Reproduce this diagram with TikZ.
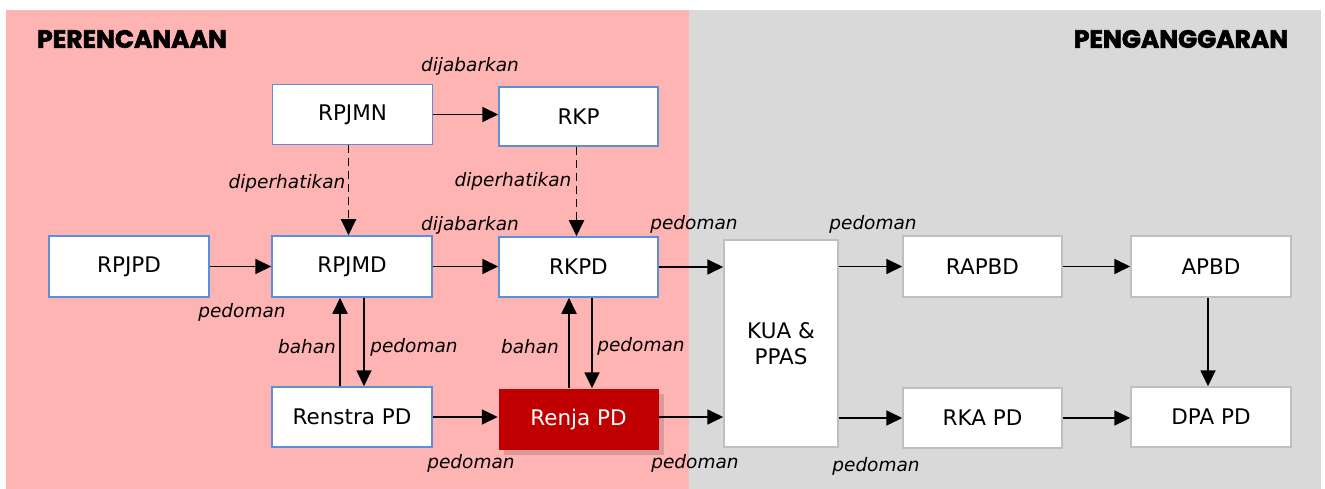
\documentclass[tikz,border=0pt]{standalone}
\usepackage{fontspec}
\setmainfont{DejaVu Sans}
\newfontfamily\titlefont[BoldFeatures={FakeBold=2.5}]{Poppins}
\usetikzlibrary{arrows.meta,shadows}
\definecolor{pinkbg}{HTML}{FFB4B4}
\definecolor{graybg}{HTML}{D9D9D9}
\definecolor{boxblue}{HTML}{5B8FD8}
\definecolor{boxgray}{HTML}{BFBFBF}
\definecolor{renjared}{HTML}{C00000}
\tikzset{
  box/.style={draw=boxblue, fill=white, line width=1.5pt, inner sep=0pt,
    font=\fontsize{21.5}{25}\selectfont, align=center},
  gbox/.style={box, draw=boxgray},
  lbl/.style={inner sep=0pt, font=\fontsize{18.5}{20}\selectfont\itshape},
  ttl/.style={inner sep=0pt, font=\titlefont\bfseries\fontsize{25}{27}\selectfont},
  arr/.style={line width=1.8pt, -{Triangle[length=16pt,width=15pt]}},
  darr/.style={arr, dash pattern=on 8pt off 5pt}
}
\begin{document}
\begin{tikzpicture}[x=1pt,y=-1pt]
\useasboundingbox (0,0) rectangle (1325,489);
\fill[white] (0,0) rectangle (1325,489);
\fill[pinkbg] (6,10) rectangle (689,489);
\fill[graybg] (689,10) rectangle (1321,489);

\node[ttl] (tplan) at (132,39) {PERENCANAAN};
\node[ttl] (tbudg) at (1181,39) {PENGANGGARAN};

% boxes
\node[box, minimum width=160pt, minimum height=60pt] (rpjmn) at (352.5,114.5) {RPJMN};
\node[box, minimum width=159pt, minimum height=59pt] (rkp) at (578.5,116.5) {RKP};
\node[box, minimum width=160pt, minimum height=61pt] (rpjpd) at (129,266.5) {RPJPD};
\node[box, minimum width=160pt, minimum height=61pt] (rpjmd) at (352,266.5) {RPJMD};
\node[box, minimum width=159pt, minimum height=60pt] (rkpd) at (578.5,267) {RKPD};
\node[box, minimum width=160pt, minimum height=60pt] (renstra) at (352,417) {Renstra PD};
\node[box, draw=none, fill=renjared, text=white, minimum width=160pt, minimum height=61pt,
  drop shadow={opacity=0.14, shadow xshift=5pt, shadow yshift=-5pt, fill=black}] (renja) at (578.5,419.5) {Renja PD};
\node[gbox, minimum width=114pt, minimum height=207pt] (kua) at (781,343.5) {KUA \&\\[1pt]PPAS};
\node[gbox, minimum width=159pt, minimum height=61pt] (rapbd) at (982.5,266.5) {RAPBD};
\node[gbox, minimum width=160pt, minimum height=61pt] (apbd) at (1211,266.5) {APBD};
\node[gbox, minimum width=159pt, minimum height=60pt] (rka) at (982.5,418) {RKA PD};
\node[gbox, minimum width=160pt, minimum height=60pt] (dpa) at (1211,417) {DPA PD};

% connectors
\draw[arr] (rpjmn.east) -- (rpjmn.east -| rkp.west);
\draw[darr] ([xshift=-4pt]rpjmn.south) -- ([xshift=-4pt]rpjmn.south |- rpjmd.north);
\draw[darr] ([xshift=-2pt]rkp.south) -- ([xshift=-2pt]rkp.south |- rkpd.north);
\draw[arr] (rpjpd.east) -- (rpjmd.west);
\draw[arr] (rpjmd.east) -- (rpjmd.east -| rkpd.west);
\draw[arr] (rkpd.east) -- (rkpd.east -| kua.west);
\draw[arr] (kua.east |- rapbd.west) -- (rapbd.west);
\draw[arr] (rapbd.east) -- (rapbd.east -| apbd.west);
\draw[arr] ([xshift=-3pt]apbd.south) -- ([xshift=-3pt]apbd.south |- dpa.north);
\draw[arr] ([xshift=-12pt]renstra.north) -- ([xshift=-12pt]renstra.north |- rpjmd.south);
\draw[arr] ([xshift=12pt]rpjmd.south) -- ([xshift=12pt]rpjmd.south |- renstra.north);
\draw[arr] ([xshift=-9.5pt]renja.north) -- ([xshift=-9.5pt]renja.north |- rkpd.south);
\draw[arr] ([xshift=13.5pt]rkpd.south) -- ([xshift=13.5pt]rkpd.south |- renja.north);
\draw[arr] (renstra.east) -- (renstra.east -| renja.west);
\draw[arr] (renja.east |- renstra.east) -- (renstra.east -| kua.west);
\draw[arr] (kua.east |- rka.west) -- (rka.west);
\draw[arr] (rka.east) -- (rka.east -| dpa.west);

% labels
\node[lbl] (l1) at (470,66) {dijabarkan};
\node[lbl] (l2) at (287,183) {diperhatikan};
\node[lbl] (l3) at (513,181) {diperhatikan};
\node[lbl] (l4) at (470,225) {dijabarkan};
\node[lbl] (l5) at (242,312) {pedoman};
\node[lbl] (l6) at (307,347) {bahan};
\node[lbl] (l7) at (414,347) {pedoman};
\node[lbl] (l8) at (530,347) {bahan};
\node[lbl] (l9) at (641,346) {pedoman};
\node[lbl] (l10) at (694,224) {pedoman};
\node[lbl] (l11) at (873,224) {pedoman};
\node[lbl] (l12) at (471,463) {pedoman};
\node[lbl] (l13) at (695,463) {pedoman};
\node[lbl] (l14) at (876,466) {pedoman};
\end{tikzpicture}
\end{document}
